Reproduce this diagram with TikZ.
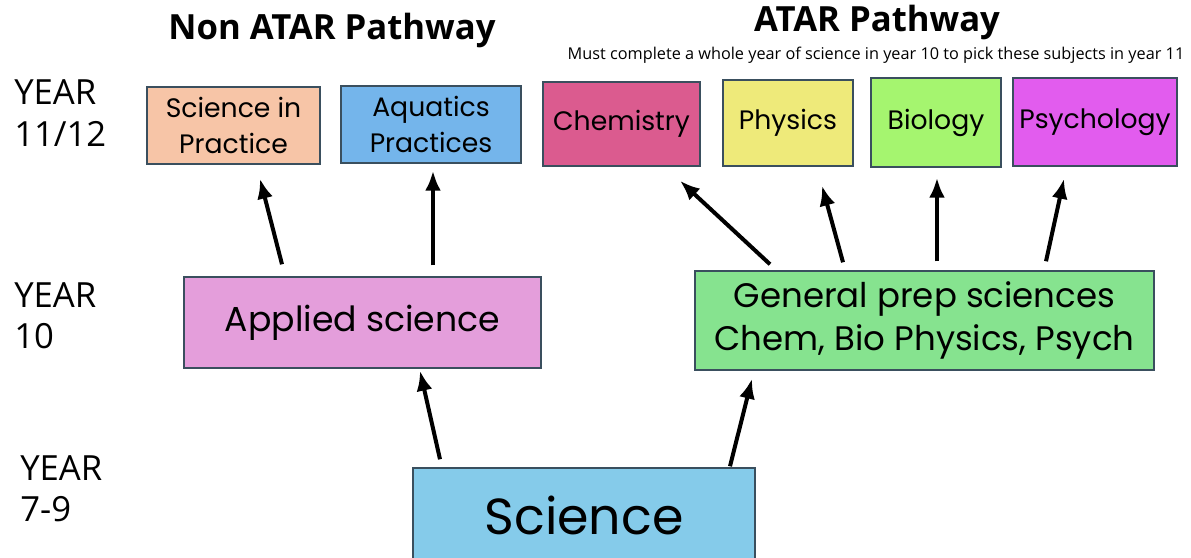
\documentclass[tikz,border=0pt]{standalone}
\usepackage{fontspec}
\setmainfont{Poppins}
\newfontfamily\headfont{Open Sans}
\usetikzlibrary{positioning,calc,arrows.meta}

\definecolor{sipfill}{HTML}{F7C5A7}
\definecolor{aquafill}{HTML}{74B5EB}
\definecolor{chemfill}{HTML}{DB5B8F}
\definecolor{physfill}{HTML}{EEEA7A}
\definecolor{biofill}{HTML}{A5F56F}
\definecolor{psychfill}{HTML}{E25CEE}
\definecolor{appliedfill}{HTML}{E49EDB}
\definecolor{generalfill}{HTML}{86E38F}
\definecolor{sciencefill}{HTML}{85CBEA}
\definecolor{boxline}{HTML}{3A4F5E}

\begin{document}
\begin{tikzpicture}[x=0.75pt, y=-0.75pt]
    \tikzset{subject/.style={rectangle, draw=boxline, line width=1.1pt, inner sep=2pt, align=center, font=\fontsize{20}{27}\selectfont},
             yearlabel/.style={anchor=west, align=left, inner sep=0pt, font=\headfont\fontsize{26}{31}\selectfont},
             heading/.style={inner sep=0pt, font=\headfont\bfseries\fontsize{26}{30}\selectfont},
             arrow/.style={-{Latex[length=15pt, width=12pt]}, line width=3pt, black}}
    \useasboundingbox (0,0) rectangle (1191,557);

    % Headings
    \node[heading] (nonatar) at (332,30) {Non ATAR Pathway};
    \node[heading] (atar) at (877,22) {ATAR Pathway};
    \node[inner sep=0pt, font=\headfont\fontsize{12.2}{14}\selectfont] (note) at (876,55) {Must complete a whole year of science in year 10 to pick these subjects in year 11};

    % Year labels
    \node[yearlabel] (y1112) at (14,113) {YEAR\\11/12};
    \node[yearlabel] (y10) at (14,316) {YEAR\\10};
    \node[yearlabel] (y79) at (20,489) {YEAR\\7-9};

    % Year 11/12 subjects
    \node[subject, fill=sipfill, minimum width=129.75pt, minimum height=57.75pt] (sip) at (233.5,125.5) {Science in\\Practice};
    \node[subject, fill=aquafill, minimum width=135pt, minimum height=57.75pt] (aqua) at (431,124.5) {Aquatics\\Practices};
    \node[subject, fill=chemfill, minimum width=117.75pt, minimum height=63pt] (chem) at (621.5,124) {Chemistry};
    \node[subject, fill=physfill, minimum width=97.5pt, minimum height=64.5pt] (phys) at (788,123) {Physics};
    \node[subject, fill=biofill, minimum width=97.5pt, minimum height=66.75pt] (bio) at (936,122.5) {Biology};
    \node[subject, fill=psychfill, minimum width=123pt, minimum height=66pt] (psych) at (1095,122) {Psychology};

    % Year 10
    \node[subject, fill=appliedfill, minimum width=267.75pt, minimum height=68.25pt, font=\fontsize{26}{30}\selectfont] (applied) at (362.5,322.5) {Applied science};
    \node[subject, fill=generalfill, minimum width=344.25pt, minimum height=74.25pt, font=\fontsize{25.5}{32}\selectfont] (general) at (924.5,320.5) {General prep sciences\\Chem, Bio Physics, Psych};

    % Year 7-9
    \node[subject, fill=sciencefill, minimum width=256.5pt, minimum height=71.25pt, font=\fontsize{38}{40}\selectfont] (science) at (584,515.5) {Science};

    % Arrows
    \draw[arrow] ($(applied.north)+(-80.5,-12)$) -- ($(sip.south)+(26.5,14)$);
    \draw[arrow] ($(applied.north)+(70.5,-11)$) -- ($(aqua.south)+(2,7)$);
    \draw[arrow] ($(general.north)+(-154.5,-6)$) -- ($(chem.south)+(58.5,14)$);
    \draw[arrow] ($(general.north)+(-81.5,-8)$) -- ($(phys.south)+(34,19)$);
    \draw[arrow] ($(general.north)+(12.5,-9)$) -- ($(bio.south)+(1,10)$);
    \draw[arrow] ($(general.north)+(121.5,-9)$) -- ($(psych.south)+(-31,12)$);
    \draw[arrow] ($(science.north)+(-144,-8)$) -- ($(applied.south)+(57.5,2)$);
    \draw[arrow] ($(science.north)+(146,-1)$) -- ($(general.south)+(-172.5,8)$);
\end{tikzpicture}
\end{document}
